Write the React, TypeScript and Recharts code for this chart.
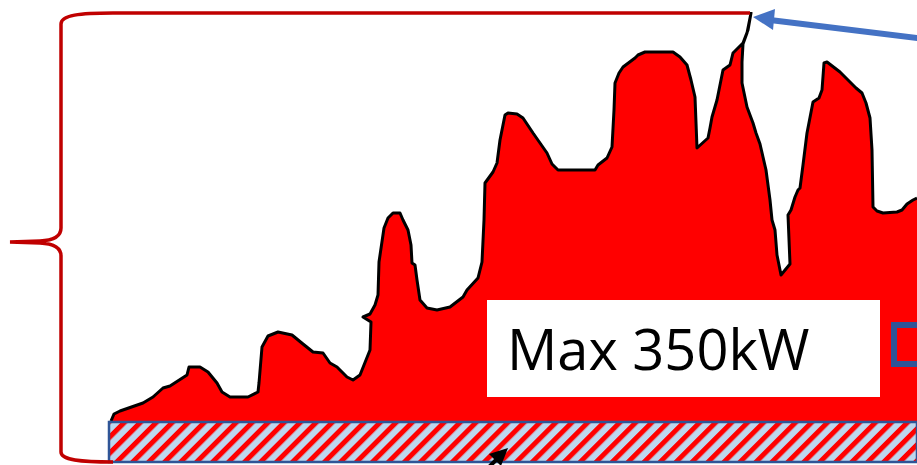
import { AreaChart, Area, XAxis, YAxis, ReferenceArea } from 'recharts'

// load profile: time axis (min) and load (kW-ish units)
const timeMin = [
  1, 4, 10, 33, 43, 53, 60, 77, 79, 90, 98, 107, 112, 120, 138, 148, 149, 152, 158, 168,
  182, 193, 203, 213, 220, 227, 237, 243, 250, 260, 261, 253, 260, 265, 268, 269, 274, 278, 283, 290,
  293, 298, 301, 302, 305, 307, 310, 317, 327, 340, 353, 357, 368, 372, 374, 375, 383, 387, 390, 395,
  398, 407, 413, 423, 437, 442, 448, 485, 488, 497, 502, 504, 505, 509, 513, 525, 528, 535, 563, 570,
  577, 581, 585, 587, 598, 600, 602, 607, 613, 620, 623, 633, 638, 641, 637, 633, 632, 632, 637, 643,
  646, 650, 653, 656, 660, 662, 665, 667, 671, 680, 678, 681, 685, 688, 690, 693, 697, 703, 709, 712,
  714, 717, 730, 746, 752, 756, 760, 762, 763, 767, 773, 787, 792, 797, 803, 807,
]
const loadKw = [
  41, 48, 51, 59, 65, 74, 76, 87, 95, 95, 90, 79, 70, 65, 65, 70, 79, 115, 126, 130,
  127, 118, 110, 109, 99, 95, 85, 82, 87, 112, 140, 145, 148, 157, 167, 200, 234, 244, 249, 249,
  242, 232, 217, 199, 197, 182, 162, 154, 152, 155, 165, 172, 184, 200, 242, 279, 290, 299, 322, 347,
  349, 348, 344, 329, 309, 298, 292, 292, 297, 304, 315, 352, 379, 389, 395, 404, 407, 410, 410, 405,
  397, 382, 365, 314, 324, 334, 345, 362, 392, 397, 409, 419, 432, 449, 429, 418, 400, 379, 355, 339,
  329, 318, 305, 292, 262, 242, 232, 207, 187, 198, 247, 252, 265, 272, 274, 297, 329, 360, 364, 372,
  399, 400, 390, 374, 369, 359, 344, 312, 255, 251, 249, 250, 252, 258, 262, 264,
]

// base load band (hatched) and annotation boxes
const baseBand = { from: -1, to: 807, low: 0, high: 40 }
const labelText = 'Max 350kW'

const data = timeMin.map((t, i) => ({ t, kw: loadKw[i] }))

const BoxLabel = ({ viewBox }: any) => {
  if (!viewBox) return null
  return (
    <text
      x={viewBox.x + 20}
      y={viewBox.y + viewBox.height - 27}
      fontFamily="'Open Sans', sans-serif"
      fontSize={56}
      fill="#000"
    >
      {labelText}
    </text>
  )
}

export default function App() {
  return (
    <div style={{ position: 'relative', width: 917, height: 465 }}>
      <style>{'body{margin:0}'}</style>
      <svg width={0} height={0} style={{ position: 'absolute' }}>
        <defs>
          <pattern
            id="hatch"
            width={11.3}
            height={11.3}
            patternUnits="userSpaceOnUse"
            patternTransform="rotate(45)"
          >
            <rect width={11.3} height={11.3} fill="#BDD7EE" />
            <rect width={5} height={11.3} fill="#FF0000" />
          </pattern>
        </defs>
      </svg>
      <AreaChart
        width={917}
        height={465}
        data={data}
        margin={{ top: 12, right: 0, bottom: 3, left: 0 }}
      >
        <XAxis dataKey="t" type="number" domain={[-110, 807]} allowDataOverflow hide />
        <YAxis type="number" domain={[0, 450]} allowDataOverflow hide />
        <Area
          type="linear"
          dataKey="kw"
          stroke="#000"
          strokeWidth={3}
          strokeLinejoin="round"
          fill="#FF0000"
          fillOpacity={1}
          dot={false}
          activeDot={false}
          isAnimationActive={false}
        />
        <ReferenceArea
          x1={baseBand.from}
          x2={baseBand.to}
          y1={baseBand.low}
          y2={baseBand.high}
          fill="url(#hatch)"
          fillOpacity={1}
          stroke="#2F5597"
          strokeWidth={2.5}
          ifOverflow="visible"
        />
        <ReferenceArea
          x1={377}
          x2={770}
          y1={65}
          y2={162}
          fill="#FFFFFF"
          fillOpacity={1}
          label={<BoxLabel />}
        />
        <ReferenceArea
          x1={784}
          x2={840}
          y1={98}
          y2={137}
          fill="none"
          stroke="#2F5597"
          strokeWidth={6}
          ifOverflow="hidden"
        />
      </AreaChart>
      <svg
        width={917}
        height={465}
        style={{ position: 'absolute', left: 0, top: 0, pointerEvents: 'none' }}
      >
        {/* red brace with top line to the peak */}
        <path
          d="M750 13 L113 13 C80 13 61 15 61 24 L61 228 Q61 240 40 241 L10 242 L40 243 Q61 244 61 256 L61 452 C61 460 80 462 113 462"
          fill="none"
          stroke="#C00000"
          strokeWidth={3.5}
        />
        {/* blue arrow to the peak */}
        <line x1={925} y1={39} x2={770} y2={20} stroke="#4472C4" strokeWidth={6} />
        <polygon points="753,17 775,9 773,30" fill="#4472C4" />
        {/* black arrow at the bottom */}
        <line x1={476} y1={480} x2={497} y2={459} stroke="#000" strokeWidth={4} />
        <polygon points="508,448 489,454 501,466" fill="#000" />
      </svg>
    </div>
  )
}
